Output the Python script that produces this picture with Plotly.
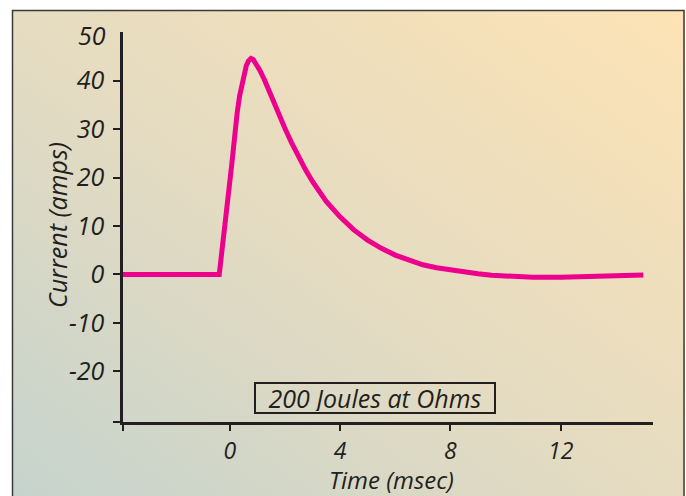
import base64
import plotly.graph_objects as go

# ---- data ----
time_ms = [-3.87, -0.38, 0.07, 0.17, 0.27, 0.36, 0.44, 0.52, 0.6, 0.68, 0.77, 0.85,
           0.95, 1.09, 1.25, 1.39, 1.5, 1.75, 2.0, 2.25, 2.5, 2.75, 3.0, 3.5, 4.0,
           4.5, 5.0, 5.5, 6.0, 6.5, 7.0, 7.5, 8.0, 8.5, 9.0, 9.5, 10.0, 11.0, 12.0,
           13.0, 14.0, 15.0]
current_amps = [0, 0, 22.5, 28.6, 33.4, 36.9, 39.4, 41.5, 43.1, 44.1, 44.6, 44.4,
                43.6, 42.2, 40.3, 38.3, 36.9, 33.5, 30.2, 27.1, 24.2, 21.6, 19.2, 15.1,
                11.9, 9.2, 7.1, 5.4, 4.0, 2.9, 2.0, 1.4, 0.9, 0.5, 0.15, -0.15, -0.35,
                -0.6, -0.6, -0.45, -0.25, -0.1]
x_ticks = [0, 4, 8, 12]
y_ticks = [-20, -10, 0, 10, 20, 30, 40]
y_top_label = 50
x_range = [-3.87, 15.36]
y_range = [-30.4, 50]
box_text = "200 Joules at Ohms"
x_title = "Time (msec)"
y_title = "Current (amps)"

W, H = 686, 496
FONT = "Open Sans, Noto Sans, DejaVu Sans, sans-serif"
INK = "#231F20"
FS = 25

svg = ('<svg xmlns="http://www.w3.org/2000/svg" width="673" height="500" preserveAspectRatio="none">'
       '<defs><linearGradient id="g" x1="0" y1="1" x2="1" y2="0">'
       '<stop offset="0" stop-color="#C5D3CD"/>'
       '<stop offset="0.45" stop-color="#E3DBC2"/>'
       '<stop offset="1" stop-color="#FDE3B5"/>'
       '</linearGradient></defs>'
       '<rect width="673" height="500" fill="url(#g)"/></svg>')
src = "data:image/svg+xml;base64," + base64.b64encode(svg.encode()).decode()

fig = go.Figure()
fig.add_trace(go.Scatter(
    x=time_ms, y=current_amps, mode="lines",
    line=dict(color="#EC008C", width=5),
    hoverinfo="skip", showlegend=False,
))

tickfont = dict(family=FONT, size=FS, color=INK, style="italic")
xtickfont = dict(family=FONT, size=23, color=INK, style="italic")

fig.update_layout(
    width=W, height=H,
    margin=dict(l=0, r=0, t=0, b=0),
    paper_bgcolor="white",
    plot_bgcolor="rgba(0,0,0,0)",
    font=dict(family=FONT, color=INK, size=FS, style="italic"),
    xaxis=dict(
        domain=[123 / W, 653.3 / W], range=x_range,
        showline=True, linecolor=INK, linewidth=2.5,
        ticks="outside", ticklen=7, tickwidth=2, tickcolor=INK,
        tickvals=[x_range[0]] + x_ticks,
        ticktext=[""] + [str(v) for v in x_ticks],
        tickfont=xtickfont,
        showgrid=False, zeroline=False, fixedrange=True,
    ),
    yaxis=dict(
        domain=[(H - 421.7) / H, (H - 32.3) / H], range=y_range,
        showline=True, linecolor=INK, linewidth=2.5,
        ticks="outside", ticklen=7, tickwidth=2, tickcolor=INK,
        tickvals=[y_range[0]] + y_ticks,
        ticktext=[""] + [str(v) for v in y_ticks],
        tickfont=tickfont,
        ticklabelstandoff=4,
        showgrid=False, zeroline=False, fixedrange=True,
    ),
    images=[dict(
        source=src, xref="paper", yref="paper",
        x=12 / W, y=1 - 10 / H, sizex=(685 - 12) / W, sizey=(H - 10 + 4) / H,
        xanchor="left", yanchor="top", sizing="stretch", layer="below",
    )],
    shapes=[dict(
        type="rect", xref="paper", yref="paper",
        x0=12.5 / W, x1=684 / W, y0=-0.02, y1=1 - 10.5 / H,
        line=dict(color="#3A3A3A", width=1.5), fillcolor="rgba(0,0,0,0)", layer="above",
    )],
    annotations=[
        dict(text=str(y_top_label), x=0, y=y_top_label, xref="paper", yref="y",
             xshift=108, xanchor="right", yanchor="middle", yshift=-3,
             showarrow=False, font=tickfont),
        dict(text=box_text, x=375 / W, y=(H - 397.5) / H, xref="paper", yref="paper",
             xanchor="center", yanchor="middle", showarrow=False,
             width=236, height=26, borderpad=1,
             bordercolor=INK, borderwidth=2, bgcolor="rgba(0,0,0,0)",
             font=dict(family=FONT, size=FS, color=INK, style="italic")),
        dict(text=x_title, x=391 / W, y=(H - 479) / H, xref="paper", yref="paper",
             xanchor="center", yanchor="middle", showarrow=False,
             font=dict(family=FONT, size=24, color=INK, style="italic")),
        dict(text=y_title, x=57 / W, y=(H - 225) / H, xref="paper", yref="paper",
             xanchor="center", yanchor="middle", showarrow=False, textangle=-90,
             font=dict(family=FONT, size=FS, color=INK, style="italic")),
    ],
)

fig.write_html("out.html")
